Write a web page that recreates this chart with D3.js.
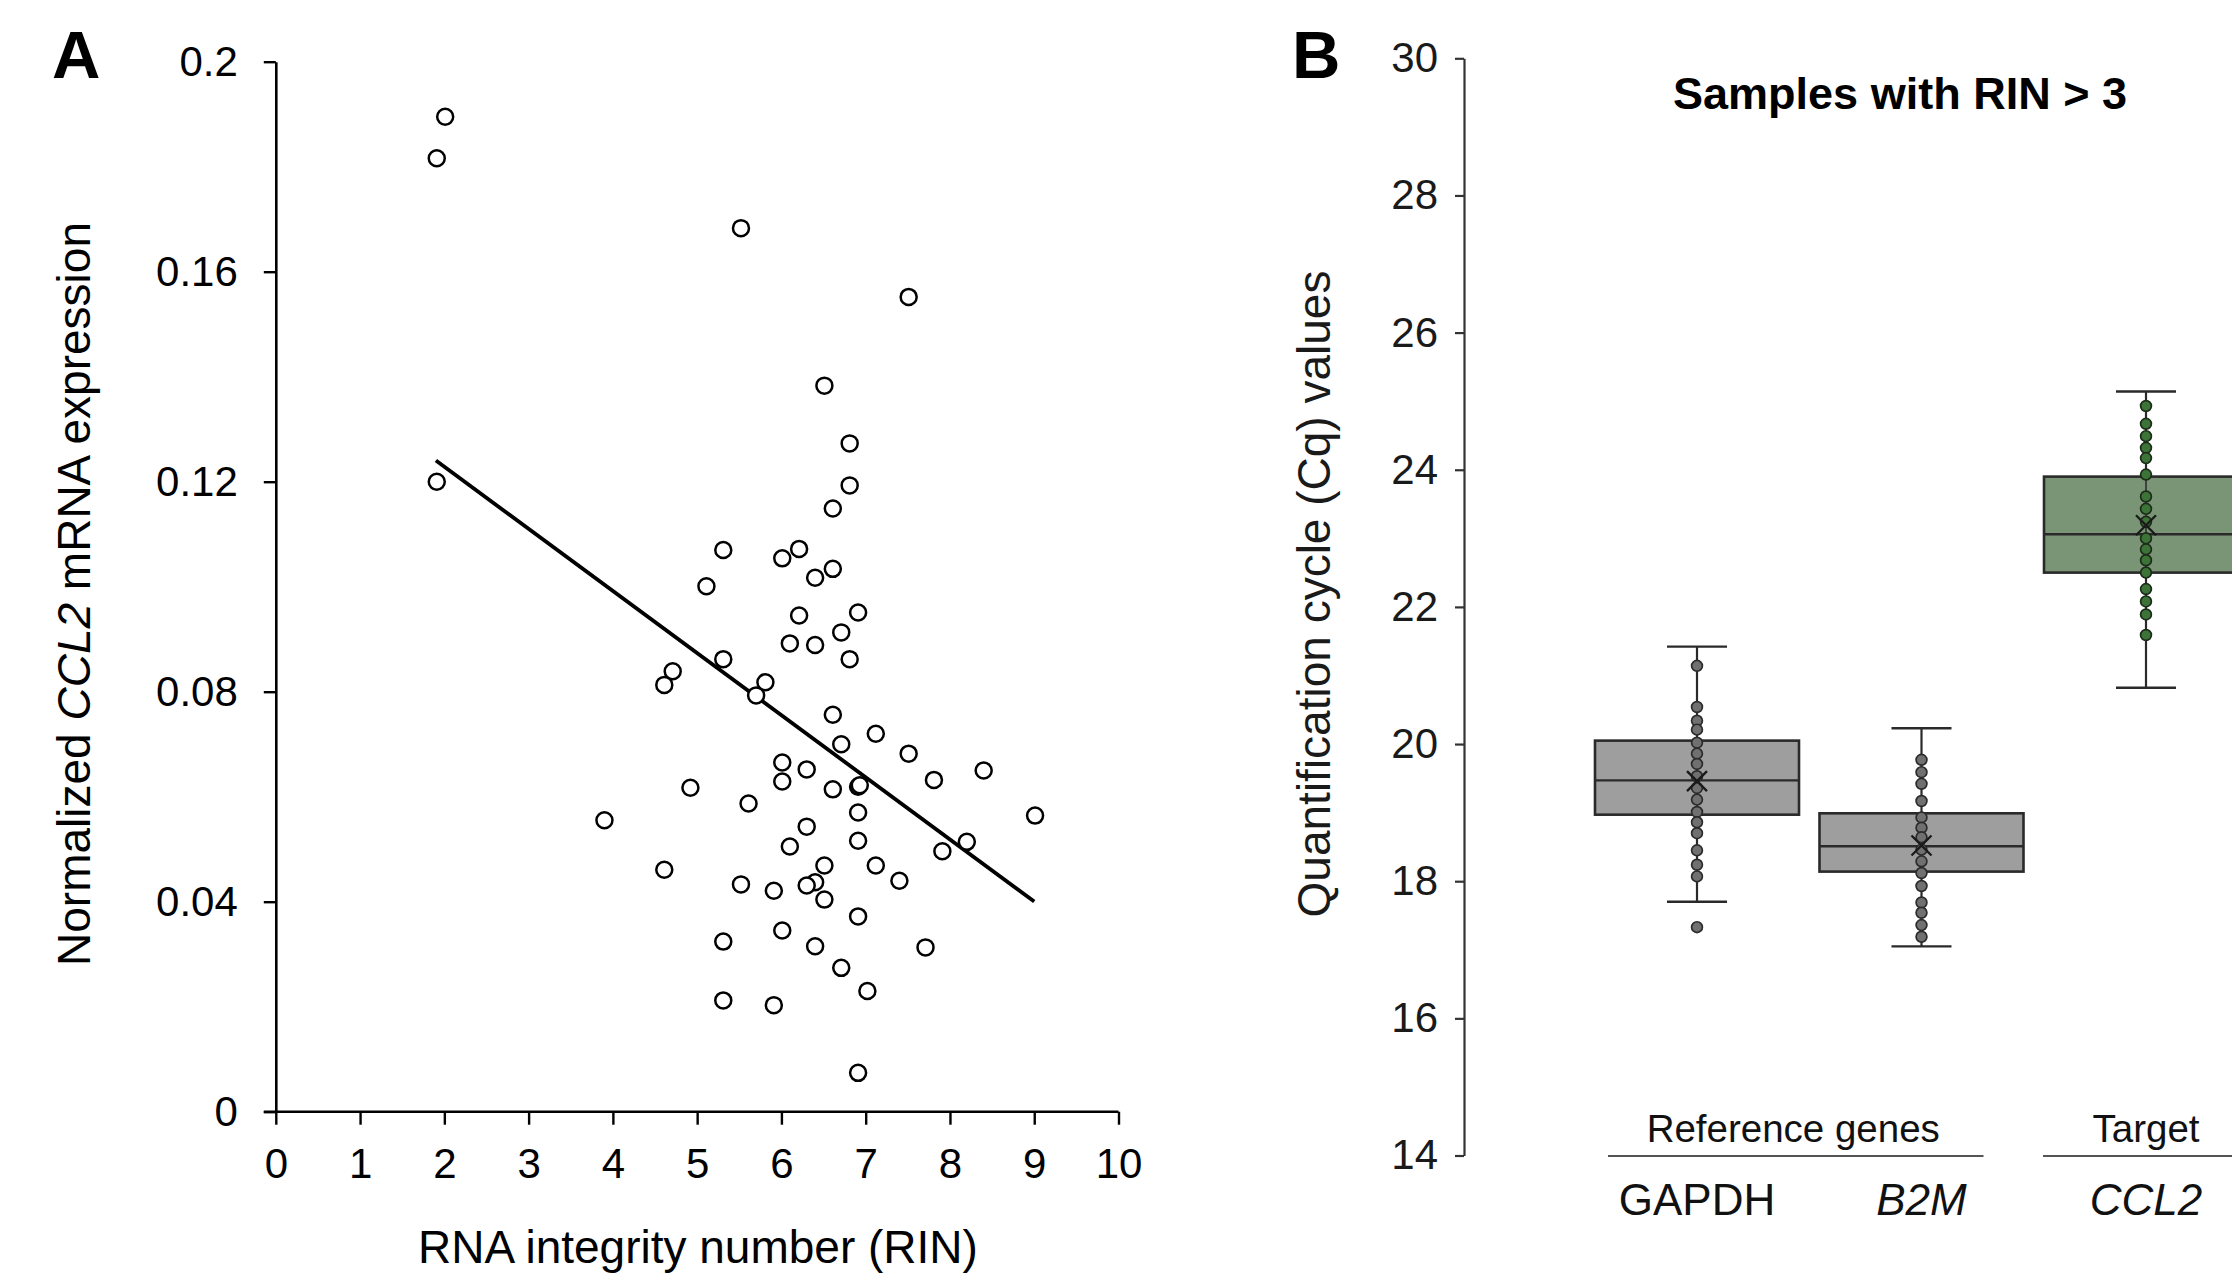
<!DOCTYPE html>
<html><head><meta charset="utf-8">
<script src="https://cdn.jsdelivr.net/npm/d3@7"></script>
<style>
html,body{margin:0;padding:0;background:#fff;}
svg{display:block;font-family:"Liberation Sans",Arial,Helvetica,sans-serif;}
</style></head>
<body>
<svg id="chart" width="2232" height="1277"></svg>
<script>
// ---------- Panel A data ----------
const rinValues = [2.01,1.91,5.52,7.51,6.51,6.81,6.81,1.91,6.61,5.31,6.21,6.01,6.61,6.40,5.11,6.21,6.91,6.71,6.10,6.40,
  6.81,5.31,4.71,4.61,5.81,5.70,6.61,7.12,6.71,7.51,6.01,6.30,8.40,7.81,6.01,4.92,6.61,6.91,6.93,5.61,
  6.91,9.01,3.90,6.30,6.91,8.20,6.10,7.91,6.51,7.12,4.61,7.40,5.52,6.40,6.30,5.91,6.51,6.91,6.01,5.31,
  6.40,7.71,6.71,7.02,5.31,5.91,6.91];
const ccl2Expression = [0.1895,0.1816,0.1683,0.1552,0.1383,0.1273,0.1193,0.1200,0.1149,0.1070,0.1072,0.1054,0.1034,0.1017,0.1001,0.0945,0.0951,0.0913,0.0892,0.0889,
  0.0862,0.0862,0.0839,0.0813,0.0818,0.0793,0.0756,0.0720,0.0700,0.0682,0.0665,0.0652,0.0650,0.0632,0.0629,0.0617,0.0614,0.0619,0.0622,0.0587,
  0.0570,0.0564,0.0555,0.0543,0.0516,0.0514,0.0505,0.0496,0.0469,0.0469,0.0461,0.0440,0.0433,0.0437,0.0431,0.0421,0.0404,0.0372,0.0345,0.0324,
  0.0315,0.0313,0.0274,0.0230,0.0212,0.0203,0.0074];
const fitIntercept = 0.1465;
const fitSlope = -0.01183;
const fitRange = [1.9, 9.0];
const xTicksA = [0,1,2,3,4,5,6,7,8,9,10];
const yTicksA = [0,0.04,0.08,0.12,0.16,0.2];
const yTickLabelsA = ["0","0.04","0.08","0.12","0.16","0.2"];

// ---------- Panel B data ----------
const genes = ["GAPDH","B2M","CCL2"];
const geneItalic = [false,true,true];
const whiskerLow = [17.70,17.05,20.82];
const q1 = [18.97,18.14,22.50];
const median = [19.47,18.51,23.06];
const q3 = [20.05,18.99,23.90];
const whiskerHigh = [21.42,20.23,25.14];
const means = [19.46,18.52,23.19];
const gapdhCq = [21.14,20.54,20.34,20.21,20.02,19.86,19.71,19.53,19.36,19.19,19.01,18.86,18.70,18.45,18.24,18.07,17.33];
const b2mCq = [19.77,19.59,19.42,19.17,18.93,18.78,18.64,18.46,18.29,18.12,17.93,17.69,17.54,17.36,17.19];
const ccl2Cq = [24.93,24.67,24.49,24.32,24.17,23.93,23.61,23.43,23.24,23.00,22.84,22.68,22.50,22.26,22.08,21.89,21.59];
const yTicksB = [14,16,18,20,22,24,26,28,30];
const groupLabels = ["Reference genes","Target"];

const svg = d3.select("#chart");

// ================= Panel A =================
const xA = d3.scaleLinear().domain([0,10]).range([275.8,1118.5]);
const yA = d3.scaleLinear().domain([0,0.2]).range([1111.7,61.7]);

const gA = svg.append("g");
const yAxisA = gA.append("g").attr("transform","translate(275.8,0)")
  .call(d3.axisLeft(yA).tickValues(yTicksA).tickFormat((d,i)=>yTickLabelsA[i]).tickSize(12).tickSizeOuter(0).tickPadding(26));
const xAxisA = gA.append("g").attr("transform","translate(0,1111.7)")
  .call(d3.axisBottom(xA).tickValues(xTicksA).tickFormat(d3.format("d")).tickSize(13).tickSizeOuter(0).tickPadding(23));
[yAxisA,xAxisA].forEach(ax=>{
  ax.select(".domain").attr("stroke","#000").attr("stroke-width",2.6);
  ax.selectAll(".tick line").attr("stroke","#000").attr("stroke-width",2.4);
  ax.selectAll(".tick text").attr("fill","#000").style("font-size","42px").style("font-family","'Liberation Sans',Arial,sans-serif");
});
xAxisA.select(".domain").attr("d", `M${xA(0)-12},0H${xA(10)}`);

// regression line
gA.append("line")
  .attr("x1",xA(fitRange[0])).attr("y1",yA(fitIntercept+fitSlope*fitRange[0]))
  .attr("x2",xA(fitRange[1])).attr("y2",yA(fitIntercept+fitSlope*fitRange[1]))
  .attr("stroke","#000").attr("stroke-width",3.8);

// points
gA.selectAll("circle.pt").data(rinValues.map((r,i)=>[r,ccl2Expression[i]])).join("circle")
  .attr("class","pt").attr("cx",d=>xA(d[0])).attr("cy",d=>yA(d[1])).attr("r",8)
  .attr("fill","#fff").attr("stroke","#000").attr("stroke-width",2.5);

// labels
gA.append("text").attr("x",52).attr("y",78).attr("font-weight","bold").attr("font-size",67).text("A");
const ylabA = gA.append("text").attr("transform","translate(90,594) rotate(-90)").attr("text-anchor","middle")
  .attr("font-size",46).attr("fill","#000");
ylabA.append("tspan").text("Normalized ");
ylabA.append("tspan").attr("font-style","italic").text("CCL2");
ylabA.append("tspan").text(" mRNA expression");
gA.append("text").attr("x",698).attr("y",1263).attr("text-anchor","middle").attr("font-size",46).text("RNA integrity number (RIN)");

// ================= Panel B =================
const yB = d3.scaleLinear().domain([14,30]).range([1155.5,58.3]);
const xB = d3.scalePoint().domain(genes).range([1697,2146]);
const boxW = 204, capW = 60;
const gB = svg.append("g");
const yAxisB = gB.append("g").attr("transform","translate(1464,0)")
  .call(d3.axisLeft(yB).tickValues(yTicksB).tickSize(9).tickSizeOuter(0).tickPadding(17));
yAxisB.select(".domain").attr("stroke","#333").attr("stroke-width",2.2);
yAxisB.selectAll(".tick line").attr("stroke","#333").attr("stroke-width",2.2);
yAxisB.selectAll(".tick text").attr("fill","#1a1a1a").style("font-size","42px").style("font-family","'Liberation Sans',Arial,sans-serif");

gB.append("text").attr("x",1292).attr("y",78).attr("font-weight","bold").attr("font-size",67).text("B");
gB.append("text").attr("x",1900).attr("y",109).attr("text-anchor","middle").attr("font-weight","bold").attr("font-size",45).text("Samples with RIN > 3");
gB.append("text").attr("transform","translate(1330,594) rotate(-90)").attr("text-anchor","middle")
  .attr("font-size",46).attr("fill","#1a1a1a").text("Quantification cycle (Cq) values");

const boxData = genes.map((g,i)=>({g,i,lo:whiskerLow[i],q1:q1[i],med:median[i],q3:q3[i],hi:whiskerHigh[i],mean:means[i],
  pts:[gapdhCq,b2mCq,ccl2Cq][i]}));
const boxFill = ["#9e9e9e","#9e9e9e","#7a9575"];
const dotFill = ["#707070","#707070","#3c7336"];
const dotStroke = ["#2b2b2b","#2b2b2b","#1d2b1b"];
const lineCol = "#2a2a2a";

boxData.forEach(d=>{
  const cx = xB(d.g);
  const g = gB.append("g");
  g.append("line").attr("x1",cx).attr("x2",cx).attr("y1",yB(d.hi)).attr("y2",yB(d.q3)).attr("stroke",lineCol).attr("stroke-width",2.2);
  g.append("line").attr("x1",cx).attr("x2",cx).attr("y1",yB(d.q1)).attr("y2",yB(d.lo)).attr("stroke",lineCol).attr("stroke-width",2.2);
  [d.hi,d.lo].forEach(v=>g.append("line").attr("x1",cx-capW/2).attr("x2",cx+capW/2).attr("y1",yB(v)).attr("y2",yB(v))
    .attr("stroke",lineCol).attr("stroke-width",2.4));
  g.append("rect").attr("x",cx-boxW/2).attr("width",boxW).attr("y",yB(d.q3)).attr("height",yB(d.q1)-yB(d.q3))
    .attr("fill",boxFill[d.i]).attr("stroke",lineCol).attr("stroke-width",2.6);
  g.append("line").attr("x1",cx-boxW/2).attr("x2",cx+boxW/2).attr("y1",yB(d.med)).attr("y2",yB(d.med)).attr("stroke",lineCol).attr("stroke-width",2.4);
  g.append("line").attr("x1",cx).attr("x2",cx).attr("y1",yB(d.q3)).attr("y2",yB(d.q1)).attr("stroke",lineCol).attr("stroke-width",1.5);
  g.selectAll("circle").data(d.pts).join("circle").attr("cx",cx).attr("cy",v=>yB(v)).attr("r",5.4)
    .attr("fill",dotFill[d.i]).attr("stroke",dotStroke[d.i]).attr("stroke-width",1.7);
  const my = yB(d.mean), s = 10;
  g.append("path").attr("d",`M${cx-s},${my-s}L${cx+s},${my+s}M${cx+s},${my-s}L${cx-s},${my+s}`)
    .attr("stroke","#1a1a1a").attr("stroke-width",2.3).attr("fill","none");
});

// category labels
gB.selectAll("text.gene").data(genes).join("text").attr("class","gene")
  .attr("x",d=>xB(d)).attr("y",1215).attr("text-anchor","middle").attr("font-size",44).attr("fill","#111")
  .attr("font-style",(d,i)=>geneItalic[i]?"italic":"normal").text(d=>d);
const groupCenters = [(xB("GAPDH")+xB("B2M"))/2, xB("CCL2")];
const groupSpans = [[xB("GAPDH")-89, xB("B2M")+62],[xB("CCL2")-103, xB("CCL2")+110]];
gB.selectAll("text.grp").data(groupLabels).join("text").attr("class","grp")
  .attr("x",(d,i)=>groupCenters[i]+ (i===0?-16:0)).attr("y",1142).attr("text-anchor","middle").attr("font-size",38.5).attr("fill","#111").text(d=>d);
gB.selectAll("line.grp").data(groupSpans).join("line").attr("class","grp")
  .attr("x1",d=>d[0]).attr("x2",d=>d[1]).attr("y1",1156).attr("y2",1156).attr("stroke","#555").attr("stroke-width",2);
</script>
</body></html>
